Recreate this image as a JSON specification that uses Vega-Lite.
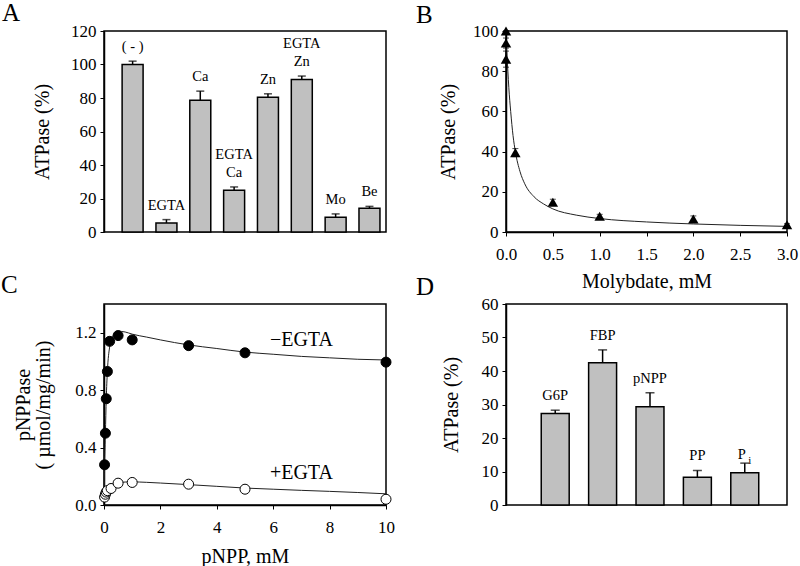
{
  "$schema": "https://vega.github.io/schema/vega-lite/v6.json",
  "autosize": {"type": "pad"},
  "padding": {"left": 0, "top": 0, "right": 0, "bottom": 0},
  "background": "white",
  "config": {
    "font": "Liberation Serif",
    "view": {"stroke": "black", "strokeWidth": 1.5},
    "axis": {"grid": false, "domainColor": "black", "domainWidth": 1.5, "tickColor": "black", "tickSize": 4, "tickWidth": 1, "labelColor": "black", "labelFontSize": 17, "titleColor": "black", "titleFontSize": 20, "titleFontWeight": "normal", "labelPadding": 4, "labelFlush": false, "labelOverlap": false, "labelBound": false},
    "axisX": {"labelPadding": 10, "titlePadding": 12},
    "title": {"fontSize": 25, "fontWeight": "normal", "anchor": "start", "frame": "group", "color": "black", "baseline": "alphabetic"}
  },
  "datasets": {
    "a": [
      {"c": "(-)", "label": "( - )", "v": 100, "hi": 102},
      {"c": "EGTA", "label": "EGTA", "v": 5.4, "hi": 7.4},
      {"c": "Ca", "label": "Ca", "v": 78.7, "hi": 84.1},
      {"c": "EGTA Ca", "label": "EGTA\nCa", "v": 24.9, "hi": 26.9},
      {"c": "Zn", "label": "Zn", "v": 80.5, "hi": 82.5},
      {"c": "EGTA Zn", "label": "EGTA\nZn", "v": 91.1, "hi": 93.1},
      {"c": "Mo", "label": "Mo", "v": 8.8, "hi": 10.8},
      {"c": "Be", "label": "Be", "v": 14.2, "hi": 15.3}
    ],
    "bpts": [
      {"x": 0, "y": 100, "lo": 100, "hi": 100},
      {"x": 0, "y": 94, "lo": 91.5, "hi": 96.5},
      {"x": 0, "y": 86, "lo": 82, "hi": 90},
      {"x": 0.1, "y": 39.5, "lo": 37.5, "hi": 41.5},
      {"x": 0.5, "y": 14.8, "lo": 13.3, "hi": 16.3},
      {"x": 1, "y": 7.8, "lo": 6.8, "hi": 8.8},
      {"x": 2, "y": 6.5, "lo": 5, "hi": 8},
      {"x": 3, "y": 3.6, "lo": 3.1, "hi": 4.1}
    ],
    "bcurve": [
      {"x": 0, "y": 96}, {"x": 0.01, "y": 88}, {"x": 0.02, "y": 80}, {"x": 0.03, "y": 72},
      {"x": 0.05, "y": 60}, {"x": 0.075, "y": 48}, {"x": 0.1, "y": 40}, {"x": 0.15, "y": 30},
      {"x": 0.2, "y": 24}, {"x": 0.3, "y": 17.5}, {"x": 0.4, "y": 14}, {"x": 0.5, "y": 11.5},
      {"x": 0.75, "y": 8.4}, {"x": 1, "y": 6.7}, {"x": 1.5, "y": 5}, {"x": 2, "y": 4},
      {"x": 2.5, "y": 3.3}, {"x": 3, "y": 2.8}
    ],
    "cpts": [
      {"s": "minus", "x": 0.02, "y": 0.28}, {"s": "minus", "x": 0.05, "y": 0.5}, {"s": "minus", "x": 0.08, "y": 0.74},
      {"s": "minus", "x": 0.12, "y": 0.93}, {"s": "minus", "x": 0.2, "y": 1.14}, {"s": "minus", "x": 0.5, "y": 1.18},
      {"s": "minus", "x": 1, "y": 1.15}, {"s": "minus", "x": 3, "y": 1.11}, {"s": "minus", "x": 5, "y": 1.06},
      {"s": "minus", "x": 10, "y": 0.995},
      {"s": "plus", "x": 0.02, "y": 0.055}, {"s": "plus", "x": 0.05, "y": 0.075}, {"s": "plus", "x": 0.08, "y": 0.09},
      {"s": "plus", "x": 0.12, "y": 0.1}, {"s": "plus", "x": 0.25, "y": 0.115}, {"s": "plus", "x": 0.5, "y": 0.152},
      {"s": "plus", "x": 1, "y": 0.157}, {"s": "plus", "x": 3, "y": 0.145}, {"s": "plus", "x": 5, "y": 0.11},
      {"s": "plus", "x": 10, "y": 0.04}
    ],
    "ccurve": [
      {"s": "minus", "x": 0, "y": 0.05}, {"s": "minus", "x": 0.02, "y": 0.28}, {"s": "minus", "x": 0.05, "y": 0.5},
      {"s": "minus", "x": 0.08, "y": 0.74}, {"s": "minus", "x": 0.12, "y": 0.93}, {"s": "minus", "x": 0.2, "y": 1.1},
      {"s": "minus", "x": 0.3, "y": 1.17}, {"s": "minus", "x": 0.5, "y": 1.21}, {"s": "minus", "x": 0.75, "y": 1.205},
      {"s": "minus", "x": 1, "y": 1.19}, {"s": "minus", "x": 1.5, "y": 1.17}, {"s": "minus", "x": 2, "y": 1.15},
      {"s": "minus", "x": 3, "y": 1.115}, {"s": "minus", "x": 4, "y": 1.09}, {"s": "minus", "x": 5, "y": 1.065},
      {"s": "minus", "x": 6, "y": 1.05}, {"s": "minus", "x": 7, "y": 1.035}, {"s": "minus", "x": 8, "y": 1.025},
      {"s": "minus", "x": 9, "y": 1.015}, {"s": "minus", "x": 10, "y": 1.01},
      {"s": "plus", "x": 0, "y": 0.05}, {"s": "plus", "x": 0.05, "y": 0.075}, {"s": "plus", "x": 0.1, "y": 0.095},
      {"s": "plus", "x": 0.2, "y": 0.12}, {"s": "plus", "x": 0.35, "y": 0.14}, {"s": "plus", "x": 0.5, "y": 0.152},
      {"s": "plus", "x": 0.75, "y": 0.16}, {"s": "plus", "x": 1, "y": 0.161}, {"s": "plus", "x": 1.5, "y": 0.158},
      {"s": "plus", "x": 2, "y": 0.153}, {"s": "plus", "x": 3, "y": 0.142}, {"s": "plus", "x": 4, "y": 0.13},
      {"s": "plus", "x": 5, "y": 0.118}, {"s": "plus", "x": 6, "y": 0.11}, {"s": "plus", "x": 7, "y": 0.102},
      {"s": "plus", "x": 8, "y": 0.095}, {"s": "plus", "x": 9, "y": 0.087}, {"s": "plus", "x": 10, "y": 0.078}
    ],
    "clabels": [
      {"x": 7, "y": 1.15, "t": "\u2212EGTA"},
      {"x": 7, "y": 0.225, "t": "+EGTA"}
    ],
    "d": [
      {"c": "G6P", "label": "G6P", "sub": "", "v": 27.3, "hi": 28.3},
      {"c": "FBP", "label": "FBP", "sub": "", "v": 42.5, "hi": 46.3},
      {"c": "pNPP", "label": "pNPP", "sub": "", "v": 29.3, "hi": 33.5},
      {"c": "PP", "label": "PP", "sub": "", "v": 8.3, "hi": 10.3},
      {"c": "Pi", "label": "P", "sub": "i", "v": 9.6, "hi": 12.5}
    ]
  },
  "columns": 2,
  "spacing": {"row": 72, "column": 120},
  "bounds": "flush",
  "concat": [
    {
      "width": 282, "height": 201,
      "title": {"text": "A", "dx": -102, "offset": -4},
      "data": {"name": "a"},
      "encoding": {
        "x": {"field": "c", "type": "nominal", "sort": null, "axis": null,
              "scale": {"paddingInner": 0.38, "paddingOuter": 0.357, "align": 0.75}}
      },
      "layer": [
        {"mark": {"type": "rule", "color": "black", "strokeWidth": 1.5},
         "encoding": {"y": {"field": "v", "type": "quantitative",
                            "scale": {"domain": [0, 120], "nice": false},
                            "axis": {"values": [0, 20, 40, 60, 80, 100, 120], "labelOverlap": false, "title": "ATPase (%)", "titlePadding": 18}},
                      "y2": {"field": "hi"}}},
        {"mark": {"type": "tick", "orient": "horizontal", "size": 8, "thickness": 1.5, "color": "black"},
         "encoding": {"y": {"field": "hi", "type": "quantitative",
                            "axis": {"values": [0, 20, 40, 60, 80, 100, 120], "labelOverlap": false, "title": "ATPase (%)", "titlePadding": 18}}}},
        {"mark": {"type": "bar", "fill": "#c0c0c0", "stroke": "black", "strokeWidth": 1.5},
         "encoding": {"y": {"field": "v", "type": "quantitative",
                            "axis": {"values": [0, 20, 40, 60, 80, 100, 120], "labelOverlap": false, "title": "ATPase (%)", "titlePadding": 18}}}},
        {"transform": [{"filter": "datum.c !== 'EGTA Ca' && datum.c !== 'EGTA Zn'"}],
         "mark": {"type": "text", "baseline": "bottom", "dy": -7, "fontSize": 14.5, "color": "black"},
         "encoding": {"y": {"field": "hi", "type": "quantitative",
                            "axis": {"values": [0, 20, 40, 60, 80, 100, 120], "labelOverlap": false, "title": "ATPase (%)", "titlePadding": 18}},
                      "text": {"field": "label"}}},
        {"transform": [{"filter": "datum.c === 'EGTA Ca' || datum.c === 'EGTA Zn'"}],
         "mark": {"type": "text", "baseline": "bottom", "dy": -25, "fontSize": 14.5, "lineHeight": 18, "lineBreak": "\n", "color": "black"},
         "encoding": {"y": {"field": "hi", "type": "quantitative",
                            "axis": {"values": [0, 20, 40, 60, 80, 100, 120], "labelOverlap": false, "title": "ATPase (%)", "titlePadding": 18}},
                      "text": {"field": "label"}}}
      ]
    },
    {
      "width": 281, "height": 201,
      "title": {"text": "B", "dx": -90, "offset": -6},
      "layer": [
        {"data": {"name": "bcurve"},
         "mark": {"type": "line", "color": "#222", "strokeWidth": 1, "interpolate": "monotone"},
         "encoding": {
           "x": {"field": "x", "type": "quantitative", "scale": {"domain": [0, 3], "nice": false},
                 "axis": {"values": [0, 0.5, 1, 1.5, 2, 2.5, 3], "format": ".1f", "title": "Molybdate, mM", "titlePadding": 9}},
           "y": {"field": "y", "type": "quantitative", "scale": {"domain": [0, 100], "nice": false},
                 "axis": {"values": [0, 20, 40, 60, 80, 100], "labelOverlap": false, "title": "ATPase (%)", "titlePadding": 14}}
         }},
        {"data": {"name": "bpts"},
         "mark": {"type": "rule", "color": "black", "strokeWidth": 1},
         "encoding": {"x": {"field": "x", "type": "quantitative"}, "y": {"field": "lo", "type": "quantitative"}, "y2": {"field": "hi"}}},
        {"data": {"name": "bpts"},
         "mark": {"type": "tick", "orient": "horizontal", "size": 6, "thickness": 1, "color": "black"},
         "encoding": {"x": {"field": "x", "type": "quantitative"}, "y": {"field": "lo", "type": "quantitative"}}},
        {"data": {"name": "bpts"},
         "mark": {"type": "tick", "orient": "horizontal", "size": 6, "thickness": 1, "color": "black"},
         "encoding": {"x": {"field": "x", "type": "quantitative"}, "y": {"field": "hi", "type": "quantitative"}}},
        {"data": {"name": "bpts"},
         "mark": {"type": "point", "shape": "triangle-up", "filled": true, "color": "black", "size": 110, "opacity": 1},
         "encoding": {"x": {"field": "x", "type": "quantitative"}, "y": {"field": "y", "type": "quantitative"}}}
      ]
    },
    {
      "width": 282, "height": 201,
      "title": {"text": "C", "dx": -103, "offset": 6},
      "layer": [
        {"data": {"name": "ccurve"},
         "mark": {"type": "line", "color": "#222", "strokeWidth": 1, "interpolate": "monotone"},
         "encoding": {
           "x": {"field": "x", "type": "quantitative", "scale": {"domain": [0, 10], "nice": false},
                 "axis": {"values": [0, 2, 4, 6, 8, 10], "title": "pNPP, mM", "titlePadding": 11}},
           "y": {"field": "y", "type": "quantitative", "scale": {"domain": [0, 1.4], "nice": false},
                 "axis": {"values": [0, 0.4, 0.8, 1.2], "format": ".1f", "labelOverlap": false, "title": ["pNPPase", "( \u00b5mol/mg/min)"], "titlePadding": 21, "titleLineHeight": 20}},
           "detail": {"field": "s"}
         }},
        {"data": {"name": "cpts"},
         "mark": {"type": "point", "shape": "circle", "size": 100, "strokeWidth": 1, "stroke": "black", "opacity": 1},
         "encoding": {
           "x": {"field": "x", "type": "quantitative"},
           "y": {"field": "y", "type": "quantitative"},
           "fill": {"field": "s", "type": "nominal", "scale": {"domain": ["minus", "plus"], "range": ["black", "white"]}, "legend": null}
         }},
        {"data": {"name": "clabels"},
         "mark": {"type": "text", "fontSize": 20, "color": "black"},
         "encoding": {
           "x": {"field": "x", "type": "quantitative"},
           "y": {"field": "y", "type": "quantitative"},
           "text": {"field": "t"}
         }}
      ]
    },
    {
      "width": 281, "height": 201,
      "title": {"text": "D", "dx": -90, "offset": -5},
      "data": {"name": "d"},
      "encoding": {
        "x": {"field": "c", "type": "nominal", "sort": null, "axis": null,
              "scale": {"paddingInner": 0.41, "paddingOuter": 0.67, "align": 0.555}}
      },
      "layer": [
        {"mark": {"type": "rule", "color": "black", "strokeWidth": 1.5},
         "encoding": {"y": {"field": "v", "type": "quantitative",
                            "scale": {"domain": [0, 60], "nice": false},
                            "axis": {"values": [0, 10, 20, 30, 40, 50, 60], "labelOverlap": false, "title": "ATPase (%)", "titlePadding": 20}},
                      "y2": {"field": "hi"}}},
        {"mark": {"type": "tick", "orient": "horizontal", "size": 9, "thickness": 1.5, "color": "black"},
         "encoding": {"y": {"field": "hi", "type": "quantitative",
                            "axis": {"values": [0, 10, 20, 30, 40, 50, 60], "labelOverlap": false, "title": "ATPase (%)", "titlePadding": 20}}}},
        {"mark": {"type": "bar", "fill": "#c0c0c0", "stroke": "black", "strokeWidth": 1.5},
         "encoding": {"y": {"field": "v", "type": "quantitative",
                            "axis": {"values": [0, 10, 20, 30, 40, 50, 60], "labelOverlap": false, "title": "ATPase (%)", "titlePadding": 20}}}},
        {"transform": [{"filter": "datum.sub === ''"}],
         "mark": {"type": "text", "baseline": "bottom", "dy": -7, "fontSize": 14.5, "color": "black"},
         "encoding": {"y": {"field": "hi", "type": "quantitative",
                            "axis": {"values": [0, 10, 20, 30, 40, 50, 60], "labelOverlap": false, "title": "ATPase (%)", "titlePadding": 20}},
                      "text": {"field": "label"}}},
        {"transform": [{"filter": "datum.sub !== ''"}],
         "mark": {"type": "text", "baseline": "bottom", "dy": -1, "dx": -3, "fontSize": 14.5, "color": "black"},
         "encoding": {"y": {"field": "hi", "type": "quantitative",
                            "axis": {"values": [0, 10, 20, 30, 40, 50, 60], "labelOverlap": false, "title": "ATPase (%)", "titlePadding": 20}},
                      "text": {"field": "label"}}},
        {"transform": [{"filter": "datum.sub !== ''"}],
         "mark": {"type": "text", "baseline": "bottom", "dy": 3, "dx": 5, "fontSize": 11, "color": "black"},
         "encoding": {"y": {"field": "hi", "type": "quantitative",
                            "axis": {"values": [0, 10, 20, 30, 40, 50, 60], "labelOverlap": false, "title": "ATPase (%)", "titlePadding": 20}},
                      "text": {"field": "sub"}}}
      ]
    }
  ]
}
